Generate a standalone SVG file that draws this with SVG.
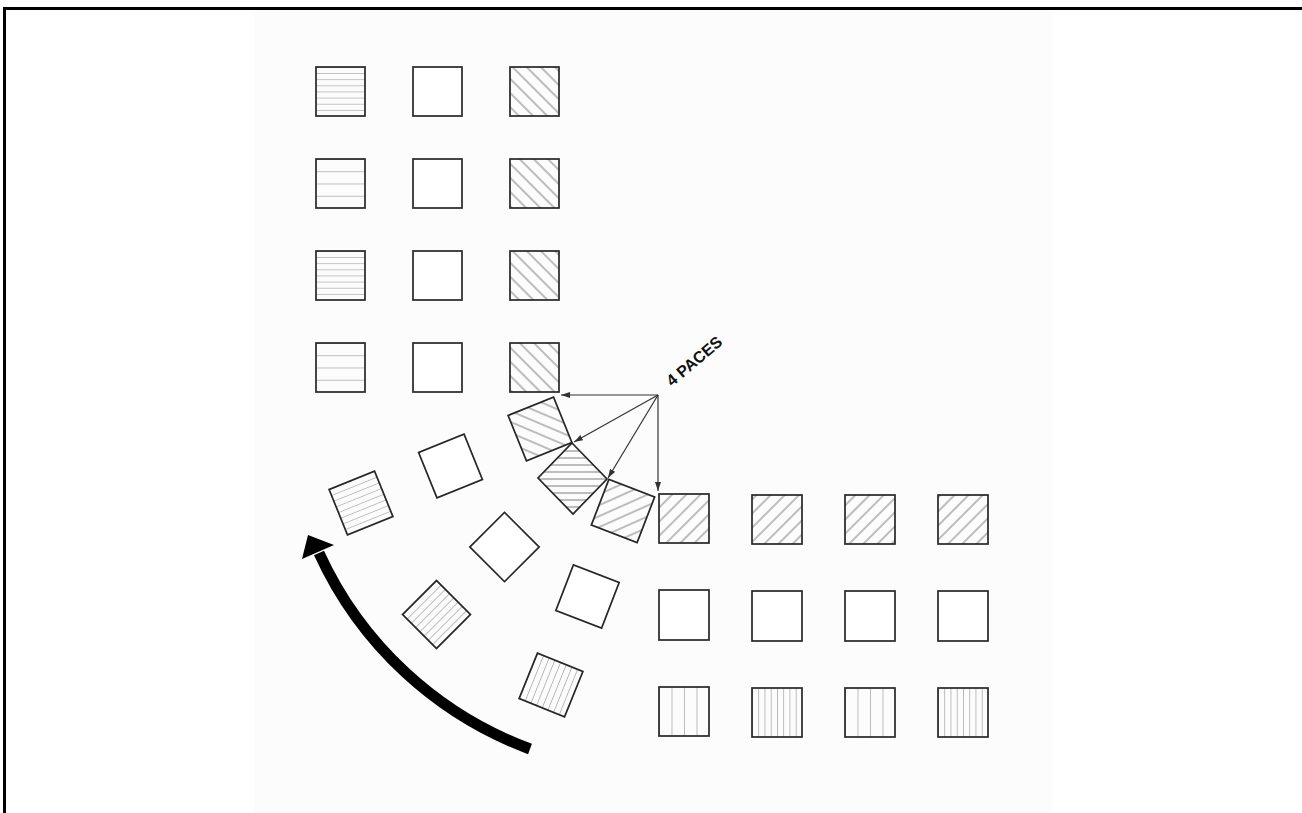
<svg xmlns="http://www.w3.org/2000/svg" width="1302" height="813" viewBox="0 0 1302 813">
<style>
.sq{stroke:#262626;stroke-width:1.7}
.ht{stroke:#7d7d7d;stroke-width:1}
.lbl{font-family:"Liberation Sans",Arial,sans-serif;font-weight:bold;font-size:16px;fill:#111}
.con{stroke:#333;stroke-width:1.2;fill:none}
</style>
<defs>
<pattern id="hd" patternUnits="objectBoundingBox" x="0" y="0" width="1" height="0.125"><line class="ht" x1="0" y1="0" x2="60" y2="0"/></pattern>
<pattern id="hs" patternUnits="objectBoundingBox" x="0" y="0" width="1" height="0.25"><line class="ht" x1="0" y1="0" x2="60" y2="0"/></pattern>
<pattern id="vd" patternUnits="objectBoundingBox" x="0" y="0" width="0.125" height="1"><line class="ht" x1="0" y1="0" x2="0" y2="60"/></pattern>
<pattern id="vs" patternUnits="objectBoundingBox" x="0" y="0" width="0.25" height="1"><line class="ht" x1="0" y1="0" x2="0" y2="60"/></pattern>
<pattern id="bk" patternUnits="userSpaceOnUse" width="10" height="10" patternTransform="rotate(-45)"><line class="ht" x1="5" y1="-1" x2="5" y2="11"/></pattern>
<pattern id="fw" patternUnits="userSpaceOnUse" width="10" height="10" patternTransform="rotate(45)"><line class="ht" x1="5" y1="-1" x2="5" y2="11"/></pattern>
<pattern id="hsc" patternUnits="userSpaceOnUse" width="10" height="7"><line class="ht" x1="-1" y1="3" x2="11" y2="3"/></pattern>
<marker id="ah" markerUnits="userSpaceOnUse" markerWidth="9" markerHeight="6" refX="9" refY="3" orient="auto"><path d="M0,0 L9,3 L0,6 z" fill="#333"/></marker>
</defs>
<rect x="254" y="10" width="799" height="803" fill="#fcfcfc"/>
<path d="M4.5 813 V8.5 H1302" fill="none" stroke="#000" stroke-width="3"/>

<!-- top-left formation -->
<g id="tl-1-1"><rect class="sq" x="316" y="67" width="49" height="49" fill="url(#hd)"/></g>
<g id="tl-1-2"><rect class="sq" x="413" y="67" width="49" height="49" fill="#fff"/></g>
<g id="tl-1-3"><rect class="sq" x="510" y="67" width="49" height="49" fill="url(#bk)"/></g>
<g id="tl-2-1"><rect class="sq" x="316" y="159" width="49" height="49" fill="url(#hs)"/></g>
<g id="tl-2-2"><rect class="sq" x="413" y="159" width="49" height="49" fill="#fff"/></g>
<g id="tl-2-3"><rect class="sq" x="510" y="159" width="49" height="49" fill="url(#bk)"/></g>
<g id="tl-3-1"><rect class="sq" x="316" y="251" width="49" height="49" fill="url(#hd)"/></g>
<g id="tl-3-2"><rect class="sq" x="413" y="251" width="49" height="49" fill="#fff"/></g>
<g id="tl-3-3"><rect class="sq" x="510" y="251" width="49" height="49" fill="url(#bk)"/></g>
<g id="tl-4-1"><rect class="sq" x="316" y="343" width="49" height="49" fill="url(#hs)"/></g>
<g id="tl-4-2"><rect class="sq" x="413" y="343" width="49" height="49" fill="#fff"/></g>
<g id="tl-4-3"><rect class="sq" x="510" y="343" width="49" height="49" fill="url(#bk)"/></g>

<!-- bottom-right formation -->
<g id="br-1-1"><rect class="sq" x="659" y="494" width="50" height="49" fill="url(#fw)"/></g>
<g id="br-1-2"><rect class="sq" x="752" y="495" width="50" height="49" fill="url(#fw)"/></g>
<g id="br-1-3"><rect class="sq" x="845" y="495" width="50" height="49" fill="url(#fw)"/></g>
<g id="br-1-4"><rect class="sq" x="938" y="495" width="50" height="49" fill="url(#fw)"/></g>
<g id="br-2-1"><rect class="sq" x="659" y="590" width="50" height="50" fill="#fff"/></g>
<g id="br-2-2"><rect class="sq" x="752" y="591" width="50" height="50" fill="#fff"/></g>
<g id="br-2-3"><rect class="sq" x="845" y="591" width="50" height="50" fill="#fff"/></g>
<g id="br-2-4"><rect class="sq" x="938" y="591" width="50" height="50" fill="#fff"/></g>
<g id="br-3-1"><rect class="sq" x="659" y="687" width="50" height="49" fill="url(#vs)"/></g>
<g id="br-3-2"><rect class="sq" x="752" y="688" width="50" height="49" fill="url(#vd)"/></g>
<g id="br-3-3"><rect class="sq" x="845" y="688" width="50" height="49" fill="url(#vs)"/></g>
<g id="br-3-4"><rect class="sq" x="938" y="688" width="50" height="49" fill="url(#vd)"/></g>

<!-- wheeling squares -->
<g id="wh-b" transform="translate(540 429) rotate(-22)"><rect class="sq" x="-24.5" y="-24.5" width="49" height="49" fill="url(#bk)"/></g>
<g id="wh-c"><polygon class="sq" points="572,443 607,479 573,514 538,478" fill="url(#hsc)"/></g>
<g id="wh-d" transform="translate(623 511) rotate(21)"><rect class="sq" x="-24.5" y="-24.5" width="49" height="49" fill="url(#fw)"/></g>
<g id="wh-f" transform="translate(361 503) rotate(-22)"><rect class="sq" x="-24.5" y="-24.5" width="49" height="49" fill="url(#hd)"/></g>
<g id="wh-g" transform="translate(450.5 466) rotate(-22)"><rect class="sq" x="-24.5" y="-24.5" width="49" height="49" fill="#fff"/></g>
<g id="wh-h" transform="translate(504.5 547) rotate(45)"><rect class="sq" x="-24.5" y="-24.5" width="49" height="49" fill="#fff"/></g>
<g id="wh-i" transform="translate(587.5 596.5) rotate(21)"><rect class="sq" x="-24.5" y="-24.5" width="49" height="49" fill="#fff"/></g>
<g id="wh-j" transform="translate(436.5 614.5) rotate(45)"><rect class="sq" x="-24" y="-24" width="48" height="48" fill="url(#vd)"/></g>
<g id="wh-k" transform="translate(551 685) rotate(22)"><rect class="sq" x="-24.5" y="-24.5" width="49" height="49" fill="url(#vd)"/></g>

<!-- label -->
<g id="label"><text class="lbl" x="672" y="387" transform="rotate(-40 672 387)">4 PACES</text></g>

<!-- connectors -->
<g id="connectors">
<line class="con" x1="658" y1="395" x2="561" y2="395" marker-end="url(#ah)"/>
<line class="con" x1="658" y1="395" x2="574" y2="442" marker-end="url(#ah)"/>
<line class="con" x1="658" y1="395" x2="608" y2="478" marker-end="url(#ah)"/>
<line class="con" x1="658" y1="395" x2="658" y2="491" marker-end="url(#ah)"/>
<path d="M530 749 A375 375 0 0 1 319 553" fill="none" stroke="#000" stroke-width="11"/>
<polygon points="302,559 334,545 308,535" fill="#000"/>
</g>
</svg>
